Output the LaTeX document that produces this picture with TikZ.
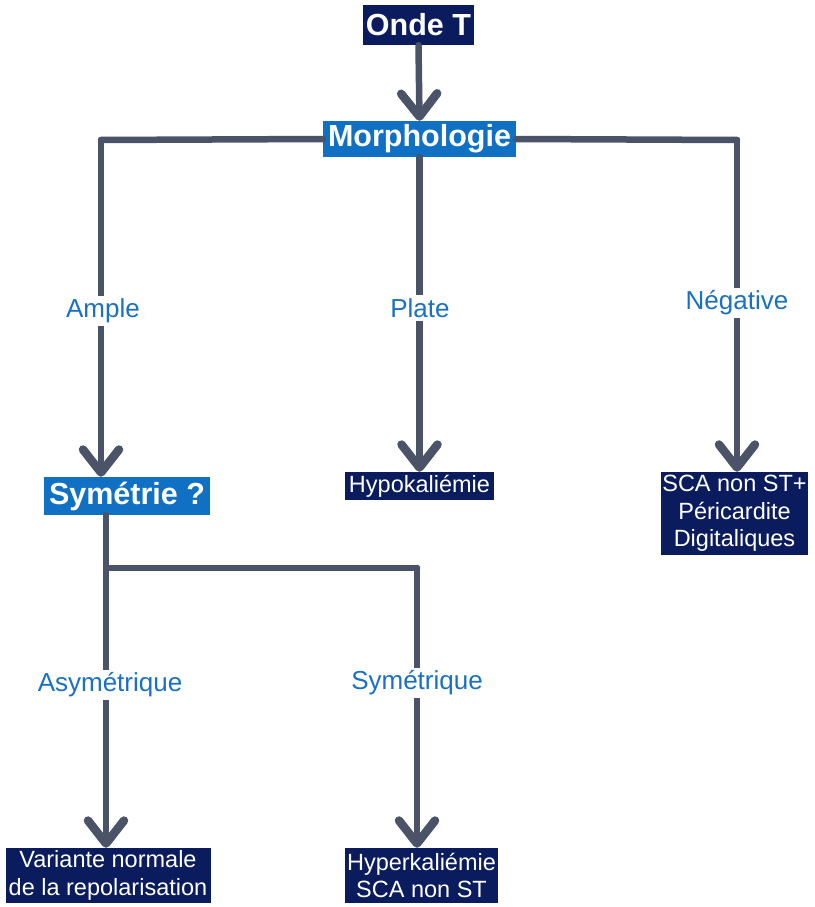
\documentclass[tikz,border=0pt]{standalone}
\usepackage{fontspec}
\setmainfont{Liberation Sans}
\usetikzlibrary{arrows.meta}

\definecolor{navy}{HTML}{0B1C5E}
\definecolor{boxblue}{HTML}{1070C4}
\definecolor{labelblue}{HTML}{1A70C2}
\definecolor{linkgray}{HTML}{4A5367}

\tikzset{
  title/.style={fill=boxblue, text=white, font=\fontsize{30.5}{34}\selectfont\bfseries,
    inner sep=0pt, align=center},
  rootbox/.style={title, fill=navy},
  leaf/.style={fill=navy, text=white, font=\fontsize{23.5}{27.5}\selectfont,
    inner sep=0pt, align=center},
  branch/.style={fill=white, text=labelblue, font=\fontsize{26}{30}\selectfont,
    inner sep=3pt},
  link/.style={draw=linkgray, line width=6.5pt, line cap=round, line join=round},
  arrowlink/.style={link, -{Straight Barb[length=23pt, width=36pt, line width=8.5pt, round]}}
}

\begin{document}
\begin{tikzpicture}[x=1pt, y=-1pt]
  \useasboundingbox (0,0) rectangle (814,907);

  % diagnostic boxes
  \node[rootbox, minimum width=111pt, minimum height=40pt] (onde) at (418.5,25) {Onde T};
  \node[title, minimum width=193pt, minimum height=36pt] (morph) at (419.5,139) {Morphologie};
  \node[title, minimum width=166pt, minimum height=38pt] (sym) at (127,496) {Symétrie ?};
  \node[leaf, minimum width=149pt, minimum height=28pt] (hypo) at (419.5,486) {Hypokaliémie};
  \node[leaf, minimum width=147pt, minimum height=83pt] (sca) at (734.5,513.5)
    {SCA non ST+\\Péricardite\\Digitaliques};
  \node[leaf, minimum width=205pt, minimum height=55pt] (var) at (108,875.5)
    {Variante normale\\de la repolarisation};
  \node[leaf, minimum width=153pt, minimum height=55pt] (hyper) at (421.5,875.5)
    {Hyperkaliémie\\SCA non ST};

  % bends of the branching lines
  \coordinate (ampletop) at (101,140);
  \coordinate (negtop) at (737,140);
  \coordinate (symout) at (106,515);
  \coordinate (fork) at (106,568);
  \coordinate (forkright) at (417,568);

  % connectors
  \draw[arrowlink] (onde.south) -- (morph.north);
  \draw[link] (morph.west) -- (ampletop);
  \draw[arrowlink] (ampletop) -- (ampletop |- sym.north);
  \draw[arrowlink] (morph.south) -- (hypo.north);
  \draw[link] (morph.east) -- (negtop);
  \draw[arrowlink] (negtop) -- (negtop |- sca.north);
  \draw[link] (symout) -- (fork) -- (forkright);
  \draw[arrowlink] (fork) -- (fork |- var.north);
  \draw[arrowlink] (forkright) -- (forkright |- hyper.north);

  % branch labels
  \node[branch] (ample) at (103,311) {Ample};
  \node[branch] (plate) at (420,308) {Plate};
  \node[branch] (neg) at (737,303) {Négative};
  \node[branch] (asym) at (110,685) {Asymétrique};
  \node[branch] (symq) at (417,683) {Symétrique};
\end{tikzpicture}
\end{document}
